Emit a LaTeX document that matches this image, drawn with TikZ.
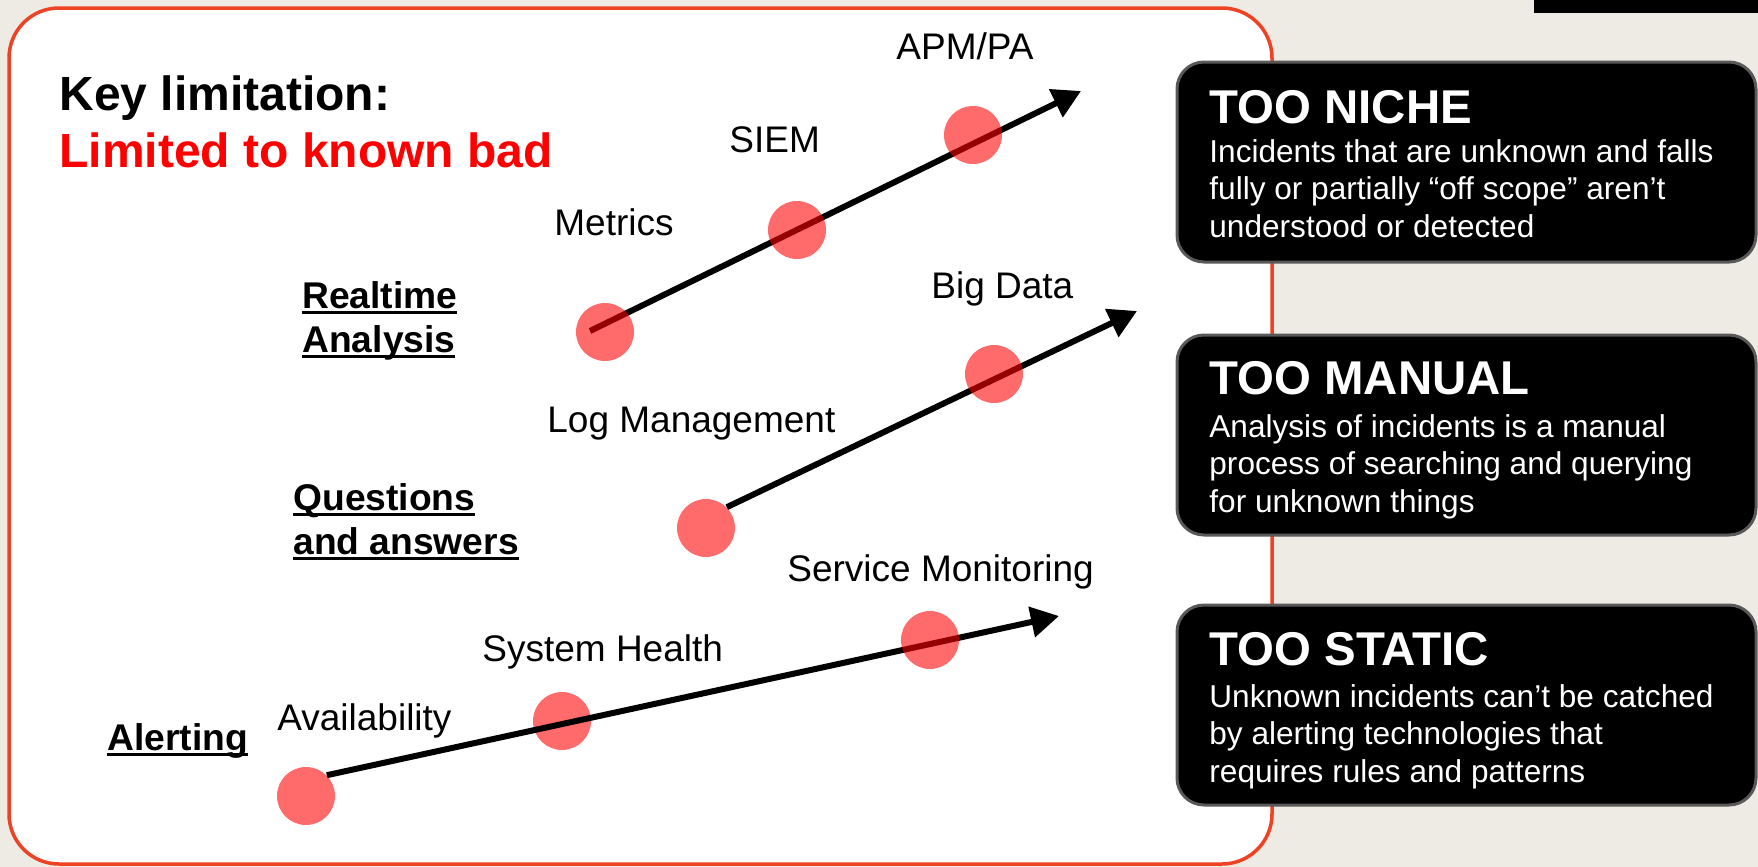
\documentclass[tikz,border=0pt]{standalone}
\usepackage{fontspec}
\setmainfont{Liberation Sans}
\usetikzlibrary{arrows.meta}
\definecolor{bgbeige}{RGB}{238,235,229}
\definecolor{framered}{RGB}{238,66,36}
\definecolor{boxedge}{RGB}{89,89,89}
\definecolor{keyred}{RGB}{255,0,0}
\pgfdeclarelayer{back}
\pgfdeclarelayer{mid}
\pgfsetlayers{back,mid,main}
\newcommand\myul[1]{\setbox0\hbox{#1}\rlap{\rule[-3.2pt]{\wd0}{1.5pt}}\box0}
\begin{document}
\begin{tikzpicture}[x=0.5pt,y=-0.5pt,
 dot/.style={circle,fill=red,fill opacity=0.58,minimum size=29pt,inner sep=0pt},
 arr/.style={line width=3pt,-{Triangle[length=14pt,width=15pt]}},
 lbl/.style={anchor=base west,inner sep=0pt,font=\fontsize{18.5}{22}\selectfont},
 rowlbl/.style={anchor=base west,inner sep=0pt,font=\fontsize{18.6}{22}\selectfont\bfseries},
 keytxt/.style={anchor=base west,inner sep=0pt,font=\fontsize{24}{28}\selectfont\bfseries},
 infobox/.style={draw=boxedge,line width=1.5pt,fill=black,rounded corners=13.5pt,minimum width=289.5pt,minimum height=100pt,inner sep=0pt},
 boxtitle/.style={anchor=base west,inner sep=0pt,text=white,font=\fontsize{23.7}{28}\selectfont\bfseries},
 boxbody/.style={anchor=base west,inner sep=0pt,text=white,font=\fontsize{15.8}{18.9}\selectfont},
]
\begin{pgfonlayer}{back}
\fill[bgbeige] (0,0) rectangle (1758,867);
\fill[black] (1534,0) rectangle (1758,13);
\draw[framered,line width=1.75pt,fill=white,rounded corners=25pt] (9,8) rectangle (1272,864);
\node[dot] (a2) at (562,721) {};
\end{pgfonlayer}

% headline
\node[keytxt] (key) at (59,110) {Key limitation:};
\node[keytxt,text=keyred] (limited) at (59,167) {Limited to known bad};

% row labels
\node[rowlbl] (rt) at (302,308) {\begin{tabular}[t]{@{}l@{}}\myul{Realtime}\\\myul{Analysis}\end{tabular}};
\node[rowlbl] (qa) at (293,510) {\begin{tabular}[t]{@{}l@{}}\myul{Questions}\\\myul{and answers}\end{tabular}};
\node[rowlbl] (al) at (107,750) {\myul{Alerting}};

% item labels
\node[lbl] (apm) at (896,60) {APM/PA};
\node[lbl] (siem) at (729,152) {SIEM};
\node[lbl] (metrics) at (554,235) {Metrics};
\node[lbl] (bigdata) at (931,298) {Big Data};
\node[lbl] (logm) at (547,432) {Log Management};
\node[lbl] (svcmon) at (787,581) {Service Monitoring};
\node[lbl] (syshealth) at (482,661) {System Health};
\node[lbl] (avail) at (277,730) {Availability};

% dots
\node[dot] (m1) at (605,332) {};
\node[dot] (m2) at (797,230) {};
\node[dot] (m3) at (973,135) {};
\node[dot] (q1) at (706,528) {};
\node[dot] (q2) at (994,374) {};
\node[dot] (a1) at (306,796) {};
\node[dot] (a3) at (930,640) {};

\coordinate (mstart) at (590,331);
\coordinate (mend) at (1081,91);
\coordinate (qend) at (1137,311);
\coordinate (aend) at (1059,616);

\begin{pgfonlayer}{mid}
\draw[arr] (mstart) -- (mend);
\draw[arr] (q1.45) -- (qend);
\draw[arr] (a1.45) -- (aend);
\end{pgfonlayer}

% right boxes
\node[infobox] (niche) at (1466.5,162) {};
\node[boxtitle] (nicheT) at (1209,123) {TOO NICHE};
\node[boxbody] (nicheB) at (1209,162) {\begin{tabular}[t]{@{}l@{}}Incidents that are unknown and falls\\fully or partially “off scope” aren’t\\understood or detected\end{tabular}};

\node[infobox] (manual) at (1466.5,435) {};
\node[boxtitle] (manualT) at (1209,394) {TOO MANUAL};
\node[boxbody] (manualB) at (1209,437) {\begin{tabular}[t]{@{}l@{}}Analysis of incidents is a manual\\process of searching and querying\\for unknown things\end{tabular}};

\node[infobox] (static) at (1466.5,705) {};
\node[boxtitle] (staticT) at (1209,665) {TOO STATIC};
\node[boxbody] (staticB) at (1209,707) {\begin{tabular}[t]{@{}l@{}}Unknown incidents can’t be catched\\by alerting technologies that\\requires rules and patterns\end{tabular}};
\end{tikzpicture}
\end{document}
